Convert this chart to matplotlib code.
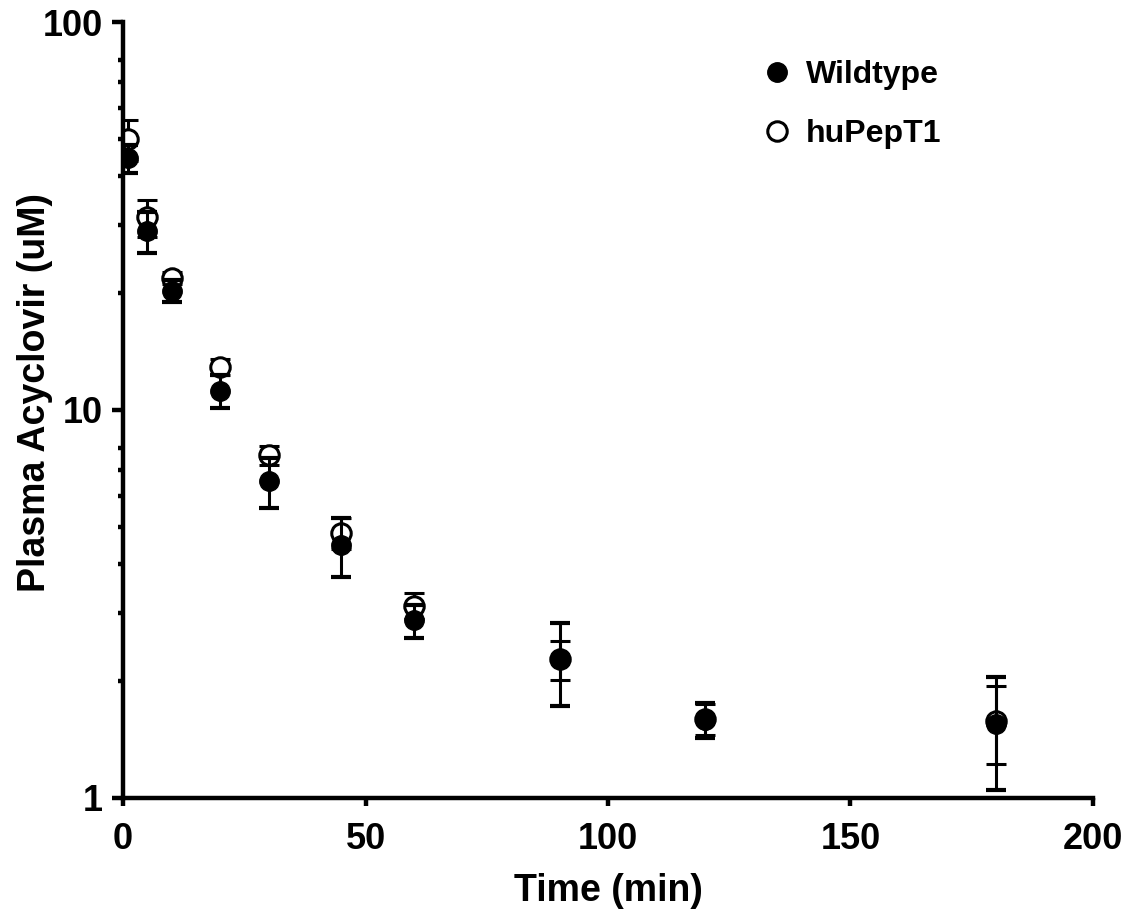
import matplotlib.pyplot as plt
from matplotlib.ticker import FixedLocator, NullFormatter

plt.rcParams['font.family'] = ['Liberation Sans', 'DejaVu Sans']
plt.rcParams['font.weight'] = 'bold'

time = [1, 5, 10, 20, 30, 45, 60, 90, 120, 180]

wt_mean = [44.6, 28.9, 20.3, 11.2, 6.56, 4.49, 2.87, 2.28, 1.59, 1.55]
wt_sd = [3.7, 3.5, 1.3, 1.1, 0.98, 0.77, 0.28, 0.55, 0.165, 0.5]

hu_mean = [49.9, 31.4, 21.9, 12.9, 7.66, 4.82, 3.13, 2.28, 1.60, 1.58]
hu_sd = [6.0, 3.4, 0.8, 0.6, 0.43, 0.44, 0.24, 0.26, 0.15, 0.36]

fig = plt.figure(figsize=(11.32, 9.17), dpi=100)
ax = fig.add_axes([0.1087, 0.1298, 0.8568, 0.8462])

eb_style = dict(fmt='o', markersize=14, color='black', ecolor='black',
                elinewidth=2.2, capsize=7, capthick=3)

hu = ax.errorbar(time, hu_mean, yerr=hu_sd, markerfacecolor='white',
                 markeredgecolor='black', markeredgewidth=2.2, zorder=2, **eb_style)
wt = ax.errorbar(time, wt_mean, yerr=wt_sd, markerfacecolor='black',
                 markeredgecolor='black', zorder=3, **eb_style)

ax.set_yscale('log')
ax.set_ylim(1, 100)
ax.set_xlim(0, 200)
ax.set_xticks([0, 50, 100, 150, 200])
ax.set_yticks([1, 10, 100])
ax.set_yticklabels(['1', '10', '100'])
# minor ticks 2..8 per decade, like the original
minors = [m * d for d in (1, 10) for m in range(2, 9)]
ax.yaxis.set_minor_locator(FixedLocator(minors))
ax.yaxis.set_minor_formatter(NullFormatter())

for side in ('top', 'right'):
    ax.spines[side].set_visible(False)
for side in ('left', 'bottom'):
    ax.spines[side].set_linewidth(3.2)

ax.tick_params(axis='both', which='major', width=3.2, labelsize=26, direction='out')
ax.tick_params(axis='y', which='major', length=7.6, pad=7)
ax.tick_params(axis='y', which='minor', length=3.8, width=3.2)
ax.tick_params(axis='x', which='major', length=5.4, pad=12)

ax.set_xlabel('Time (min)', fontsize=27, fontweight='bold')
ax.set_ylabel('Plasma Acyclovir (uM)', fontsize=27, fontweight='bold')
ax.xaxis.set_label_coords(0.5, -0.0966)
ax.yaxis.set_label_coords(-0.072, 0.523)

ax.legend([wt.lines[0], hu.lines[0]], ['Wildtype', 'huPepT1'],
          loc='upper left', bbox_to_anchor=(0.6415, 0.972), frameon=False,
          fontsize=23, handlelength=1.0, handletextpad=0.4, labelspacing=0.92,
          borderpad=0, markerscale=1.0)

fig.savefig('out.png', dpi=100)
